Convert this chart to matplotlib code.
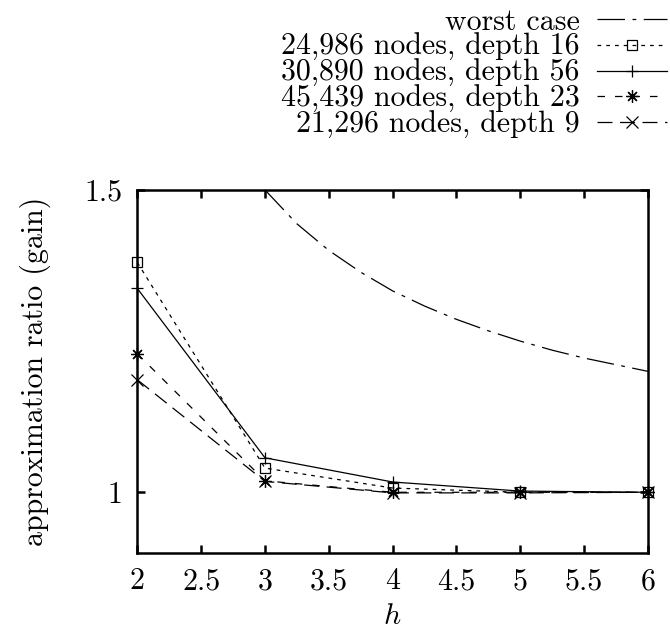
import numpy as np
import matplotlib
matplotlib.use("Agg")
import matplotlib.pyplot as plt

# values
h = [2, 3, 4, 5, 6]
nodes_24986 = [1.380, 1.040, 1.007, 1.000, 1.000]
nodes_30890 = [1.337, 1.057, 1.017, 1.002, 1.000]
nodes_45439 = [1.229, 1.019, 1.000, 1.000, 1.000]
nodes_21296 = [1.186, 1.018, 0.999, 0.999, 1.000]

h_worst = [3, 3.25, 3.5, 3.75, 4, 4.25, 4.5, 4.75, 5, 5.25, 5.5, 5.75, 6]
worst = [1.5, 1.444, 1.4, 1.364, 1.333, 1.308, 1.286, 1.267, 1.25, 1.235, 1.222, 1.211, 1.2]

x_ticks = [2, 2.5, 3, 3.5, 4, 4.5, 5, 5.5, 6]
x_labels = ["2", "2.5", "3", "3.5", "4", "4.5", "5", "5.5", "6"]
y_ticks = [1, 1.5]
y_labels = ["1", "1.5"]

FS = 21.5
plt.rcParams.update({
    "font.family": "cmr10",
    "mathtext.fontset": "cm",
    "font.size": FS,
    "axes.linewidth": 1.8,
})

fig = plt.figure(figsize=(6.7, 6.31), dpi=100)
ax = fig.add_axes([0.205, 0.124, 0.762, 0.575])

lw = 0.9
ax.plot(h_worst, worst, color="black", lw=lw, dashes=(22, 6, 3, 6),
        label="worst case", clip_on=False)
ax.plot(h, nodes_24986, color="black", lw=lw, dashes=(3, 4), marker="s",
        ms=7, mfc="none", mew=0.9, label="24,986 nodes, depth 16", clip_on=False)
ax.plot(h, nodes_30890, color="black", lw=lw, marker="+", ms=9, mew=0.9,
        label="30,890 nodes, depth 56", clip_on=False)
ax.plot(h, nodes_45439, color="black", lw=lw, dashes=(6, 8), marker=(8, 2, 0),
        ms=9, mew=0.9, label="45,439 nodes, depth 23", clip_on=False)
ax.plot(h, nodes_21296, color="black", lw=lw, dashes=(12, 6), marker="x",
        ms=8, mew=0.9, label="21,296 nodes, depth 9", clip_on=False)

ax.set_xlim(2, 6)
ax.set_ylim(0.9, 1.5)
ax.set_xticks(x_ticks, x_labels)
ax.set_yticks(y_ticks, y_labels)
ax.tick_params(direction="in", length=6, width=1.8, top=True, right=True, pad=11)
ax.set_xlabel("$h$", labelpad=5)
ax.set_ylabel("approximation ratio (gain)", labelpad=24)

leg = fig.legend(loc="upper right", bbox_to_anchor=(1.013, 1.006), frameon=False,
                 markerfirst=False, handlelength=2.35, labelspacing=-0.075,
                 handletextpad=0.57, borderaxespad=0.0, fontsize=FS)

fig.savefig("out.png", dpi=100)
